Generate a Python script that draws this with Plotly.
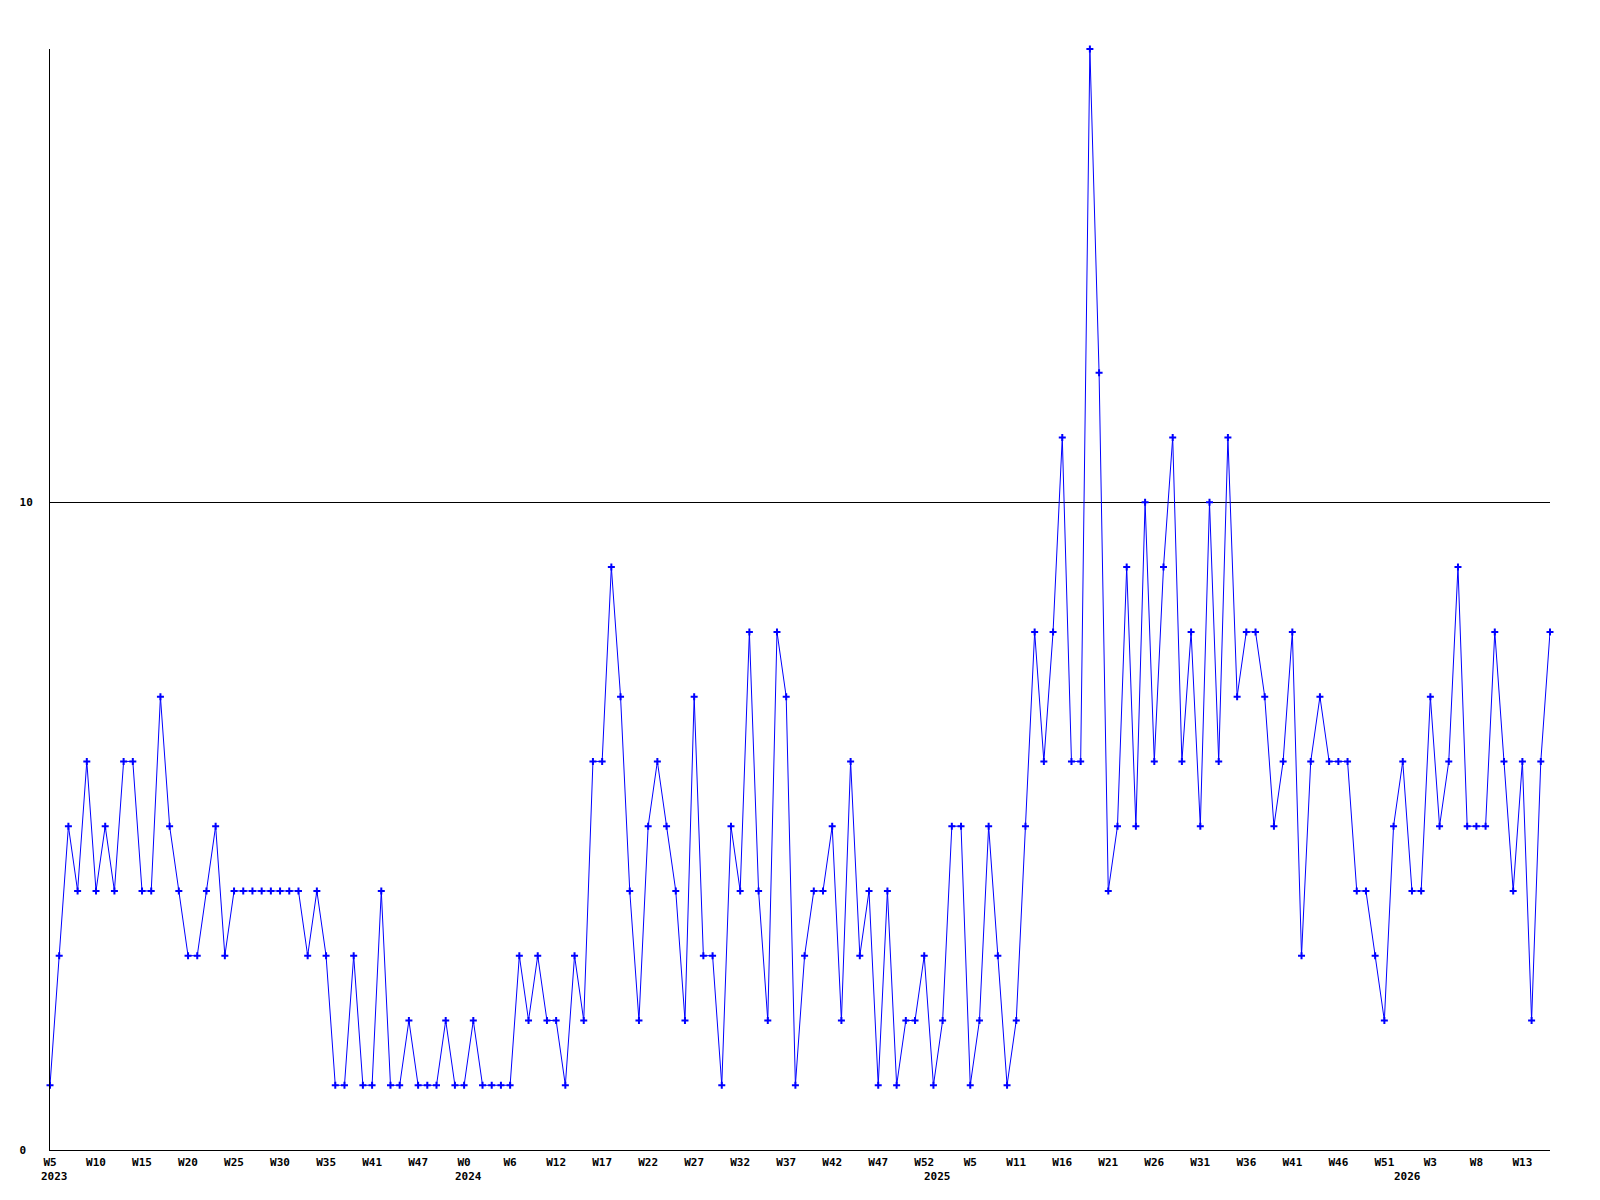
import plotly.graph_objects as go

values = [
    1, 3, 5, 4, 6, 4, 5, 4, 6, 6, 4, 4, 7, 5, 4, 3, 3, 4, 5, 3, 4,
    4, 4, 4, 4, 4, 4, 4, 3, 4, 3, 1, 1, 3, 1, 1, 4, 1, 1, 2, 1, 1,
    1, 2, 1, 1, 2, 1, 1, 1, 1, 3, 2, 3, 2, 2, 1, 3, 2, 6, 6, 9, 7,
    4, 2, 5, 6, 5, 4, 2, 7, 3, 3, 1, 5, 4, 8, 4, 2, 8, 7, 1, 3,
    4, 4, 5, 2, 6, 3, 4, 1, 4, 1, 2, 2, 3, 1, 2, 5, 5, 1, 2, 5, 3,
    1, 2, 5, 8, 6, 8, 11, 6, 6, 17, 12, 4, 5, 9, 5, 10, 6, 9, 11, 6, 8,
    5, 10, 6, 11, 7, 8, 8, 7, 5, 6, 8, 3, 6, 7, 6, 6, 6, 4, 4, 3,
    2, 5, 6, 4, 4, 7, 5, 6, 9, 5, 5, 5, 8, 6, 4, 6, 2, 6, 8,
]

week_tick_pos = [0, 5, 10, 15, 20, 25, 30, 35, 40, 45, 50, 55, 60, 65, 70, 75, 80,
                 85, 90, 95, 100, 105, 110, 115, 120, 125, 130, 135, 140, 145, 150, 155, 160]
week_tick_text = ["W5", "W10", "W15", "W20", "W25", "W30", "W35", "W41", "W47", "W0",
                  "W6", "W12", "W17", "W22", "W27", "W32", "W37", "W42", "W47", "W52",
                  "W5", "W11", "W16", "W21", "W26", "W31", "W36", "W41", "W46", "W51",
                  "W3", "W8", "W13"]
year_pos = [0, 45, 96, 147]
year_text = ["2023", "2024", "2025", "2026"]
y_tick_vals = [0, 10]
y_tick_text = ["0\u00a0", "10"]

x = list(range(len(values)))
font = dict(family="DejaVu Sans Mono", size=11, color="black", weight="bold")

fig = go.Figure()
fig.add_trace(go.Scatter(
    x=x, y=values, mode="lines+markers",
    line=dict(color="#0000FF", width=1),
    marker=dict(color="#0000FF", size=5, symbol="cross-thin", line=dict(color="#0000FF", width=2)),
    cliponaxis=False, showlegend=False,
))

annotations = []
for p, t in zip(year_pos, year_text):
    annotations.append(dict(x=p, y=0, xref="x", yref="paper", text=t, showarrow=False,
                            xanchor="left", yanchor="top", xshift=-11, yshift=-18, font=font))

fig.update_layout(
    width=1584, height=1184, autosize=False,
    margin=dict(l=42, r=42, t=41, b=42),
    paper_bgcolor="white", plot_bgcolor="white",
    annotations=annotations,
    xaxis=dict(range=[0, len(values) - 1], tickmode="array", tickvals=week_tick_pos,
               ticktext=week_tick_text, showgrid=False, zeroline=False, showline=True,
               linecolor="black", linewidth=1, ticks="", tickfont=font, ticklabelstandoff=2),
    yaxis=dict(range=[0, 17], tickmode="array", tickvals=y_tick_vals, ticktext=y_tick_text,
               showgrid=True, gridcolor="black", gridwidth=1, zeroline=False,
               showline=True, linecolor="black", linewidth=1, ticks="", tickfont=font,
               ticklabelstandoff=14),
)

fig.write_html("out.html")
